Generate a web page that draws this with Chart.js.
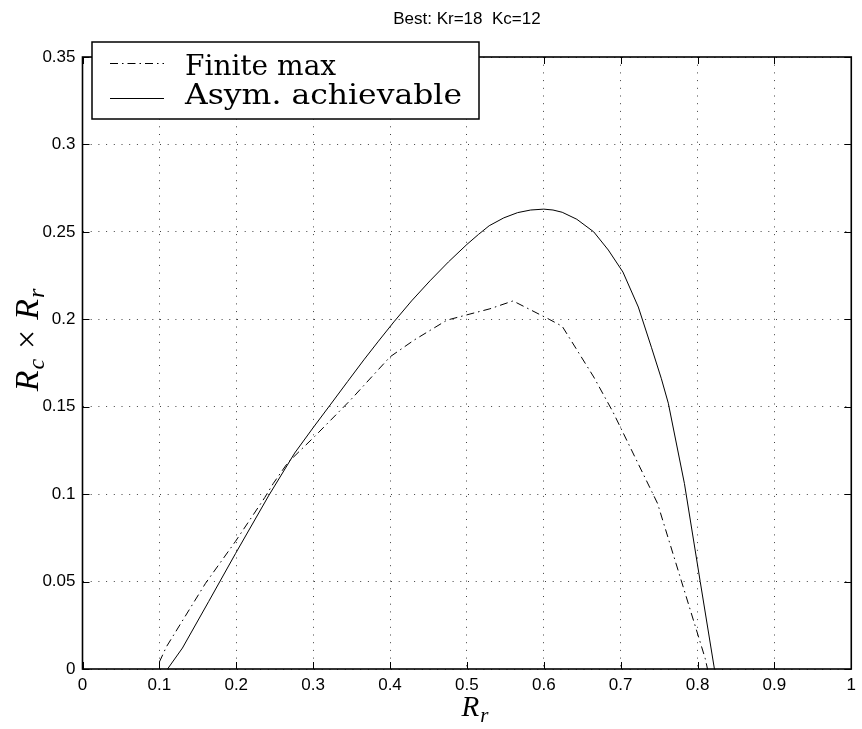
<!DOCTYPE html>
<html>
<head>
<meta charset="utf-8">
<script src="https://cdn.jsdelivr.net/npm/chart.js@4"></script>
<style>
  html, body { margin: 0; padding: 0; background: #fff; }
  #wrap { width: 862px; height: 729px; }
</style>
</head>
<body>
<div id="wrap"><canvas id="myChart" width="862" height="729"></canvas></div>
<script>
// values
const finiteX = [0.100, 0.109, 0.160, 0.199, 0.237, 0.248, 0.267, 0.302, 0.349, 0.400, 0.431, 0.474, 0.504, 0.530, 0.560, 0.607, 0.624, 0.665, 0.690, 0.748, 0.810, 0.813];
const finiteY = [0.004, 0.0126, 0.049, 0.073, 0.098, 0.106, 0.118, 0.133, 0.154, 0.1785, 0.188, 0.1995, 0.203, 0.206, 0.2105, 0.200, 0.196, 0.167, 0.147, 0.0947, 0.006, 0.0];
const asymX = [0.1106, 0.130, 0.164, 0.199, 0.242, 0.276, 0.300, 0.323, 0.345, 0.366, 0.385, 0.405, 0.428, 0.452, 0.476, 0.500, 0.515, 0.529, 0.548, 0.566, 0.583, 0.600, 0.612, 0.624, 0.643, 0.665, 0.684, 0.703, 0.723, 0.740, 0.753, 0.762, 0.783, 0.8035, 0.822];
const asymY = [0.0, 0.012, 0.0385, 0.066, 0.099, 0.1235, 0.138, 0.1515, 0.1645, 0.1768, 0.1875, 0.1985, 0.2105, 0.222, 0.2328, 0.2428, 0.2485, 0.2535, 0.2580, 0.2610, 0.2625, 0.2630, 0.2625, 0.2612, 0.2572, 0.2500, 0.2396, 0.2270, 0.2070, 0.1840, 0.1660, 0.1520, 0.1060, 0.0500, 0.0];

const xTickVals = [0, 0.1, 0.2, 0.3, 0.4, 0.5, 0.6, 0.7, 0.8, 0.9, 1];
const xTickLabels = ["0", "0.1", "0.2", "0.3", "0.4", "0.5", "0.6", "0.7", "0.8", "0.9", "1"];
const yTickVals = [0, 0.05, 0.1, 0.15, 0.2, 0.25, 0.3, 0.35];
const yTickLabels = ["0", "0.05", "0.1", "0.15", "0.2", "0.25", "0.3", "0.35"];

const titleText = "Best: Kr=18  Kc=12";
const legendNames = ["Finite max", "Asym. achievable"];

const dashDot = [8, 4, 1.5, 4];

const toPts = (xs, ys) => xs.map((x, i) => ({ x: x, y: ys[i] }));

// draws pieces of "math" text, italic letters with subscripts
const mathWidth = (ctx, parts) => {
    let w = 0;
    parts.forEach(p => { ctx.font = p.font; w += ctx.measureText(p.t).width + (p.gap || 0); });
    return w;
}
const drawMath = (ctx, parts, cx, y) => {
    let x = cx - mathWidth(ctx, parts) / 2;
    parts.forEach(p => {
        ctx.font = p.font;
        ctx.fillText(p.t, x, y + (p.dy || 0));
        x += ctx.measureText(p.t).width + (p.gap || 0);
    });
}

const decorPlugin = {
    id: 'decor',
    afterDraw(chart) {
        const ctx = chart.ctx;
        const a = chart.chartArea;
        const xs = chart.scales.x, ys = chart.scales.y;
        ctx.save();
        ctx.strokeStyle = '#000';
        ctx.fillStyle = '#000';
        // box
        ctx.lineWidth = 1.6;
        ctx.strokeRect(a.left, a.top, a.right - a.left, a.bottom - a.top);
        // inward ticks
        ctx.lineWidth = 1;
        ctx.beginPath();
        xTickVals.forEach(v => {
            const px = Math.round(xs.getPixelForValue(v)) + 0.5;
            ctx.moveTo(px, a.bottom); ctx.lineTo(px, a.bottom - 7);
            ctx.moveTo(px, a.top); ctx.lineTo(px, a.top + 7);
        });
        yTickVals.forEach(v => {
            const py = Math.round(ys.getPixelForValue(v)) + 0.5;
            ctx.moveTo(a.left, py); ctx.lineTo(a.left + 7, py);
            ctx.moveTo(a.right, py); ctx.lineTo(a.right - 7, py);
        });
        ctx.stroke();

        // title
        ctx.font = '17px "Liberation Sans"';
        ctx.textAlign = 'center';
        ctx.textBaseline = 'alphabetic';
        ctx.fillText(titleText, (a.left + a.right) / 2, 24);

        // axis titles
        ctx.textAlign = 'left';
        drawMath(ctx, [
            { t: 'R', font: 'italic 29px "Liberation Serif"', gap: 1 },
            { t: 'r', font: 'italic 21px "Liberation Serif"', dy: 6 }
        ], 475, 716);

        ctx.save();
        ctx.translate(38, 340);
        ctx.rotate(-Math.PI / 2);
        drawMath(ctx, [
            { t: 'R', font: 'italic 34px "Liberation Serif"', gap: 1 },
            { t: 'c', font: 'italic 24px "Liberation Serif"', dy: 6, gap: 10 },
            { t: '\u00d7', font: '34px "Liberation Serif"', gap: 10 },
            { t: 'R', font: 'italic 34px "Liberation Serif"', gap: 1 },
            { t: 'r', font: 'italic 24px "Liberation Serif"', dy: 6 }
        ], 0, 0);
        ctx.restore();

        // legend
        const lx = 92, ly = 42, lw = 387, lh = 77;
        ctx.fillStyle = '#fff';
        ctx.fillRect(lx, ly, lw, lh);
        ctx.lineWidth = 1.5;
        ctx.strokeRect(lx, ly, lw, lh);
        ctx.lineWidth = 1;
        ctx.beginPath();
        ctx.setLineDash(dashDot);
        ctx.moveTo(110, 63.5); ctx.lineTo(164, 63.5);
        ctx.stroke();
        ctx.setLineDash([]);
        ctx.beginPath();
        ctx.moveTo(110, 98.5); ctx.lineTo(164, 98.5);
        ctx.stroke();
        ctx.fillStyle = '#000';
        ctx.font = '28px "DejaVu Serif"';
        ctx.textAlign = 'left';
        ctx.fillText(legendNames[0], 185, 75);
        // CM is wider than DejaVu, stretch the long entry a bit
        const w1 = ctx.measureText(legendNames[1]).width;
        ctx.save();
        ctx.translate(185, 104);
        ctx.scale(Math.min(277 / w1, 1.15), 1);
        ctx.fillText(legendNames[1], 0, 0);
        ctx.restore();
        ctx.restore();
    }
};

const ctx = document.getElementById('myChart');
const myChart = new Chart(ctx, {
    type: 'line',
    data: {
        datasets: [{
            label: legendNames[0],
            data: toPts(finiteX, finiteY),
            borderColor: '#000',
            borderWidth: 1,
            borderDash: dashDot,
            pointRadius: 0,
            fill: false,
            tension: 0
        }, {
            label: legendNames[1],
            data: toPts(asymX, asymY),
            borderColor: '#000',
            borderWidth: 1,
            pointRadius: 0,
            fill: false,
            tension: 0
        }]
    },
    options: {
        responsive: false,
        animation: false,
        layout: { padding: { top: 57, right: 4, left: 0, bottom: 0 } },
        plugins: {
            legend: { display: false },
            title: { display: false },
            tooltip: { enabled: false }
        },
        scales: {
            x: {
                type: 'linear',
                min: 0,
                max: 1,
                afterBuildTicks: s => { s.ticks = xTickVals.map(v => ({ value: v })); },
                afterFit: s => { s.height = 60; },
                ticks: {
                    color: '#000',
                    font: { family: 'Liberation Sans', size: 17 },
                    padding: 6,
                    maxRotation: 0,
                    callback: (v, i) => xTickLabels[i]
                },
                grid: { color: 'rgba(0,0,0,0.75)', lineWidth: 1, drawTicks: false },
                border: { display: false, dash: [1, 6.7] }
            },
            y: {
                type: 'linear',
                min: 0,
                max: 0.35,
                afterBuildTicks: s => { s.ticks = yTickVals.map(v => ({ value: v })); },
                afterFit: s => { s.width = 82.5; },
                ticks: {
                    color: '#000',
                    font: { family: 'Liberation Sans', size: 17 },
                    padding: 7,
                    callback: (v, i) => yTickLabels[i]
                },
                grid: { color: 'rgba(0,0,0,0.75)', lineWidth: 1, drawTicks: false },
                border: { display: false, dash: [1, 6.7] }
            }
        }
    },
    plugins: [decorPlugin]
});
</script>
</body>
</html>
